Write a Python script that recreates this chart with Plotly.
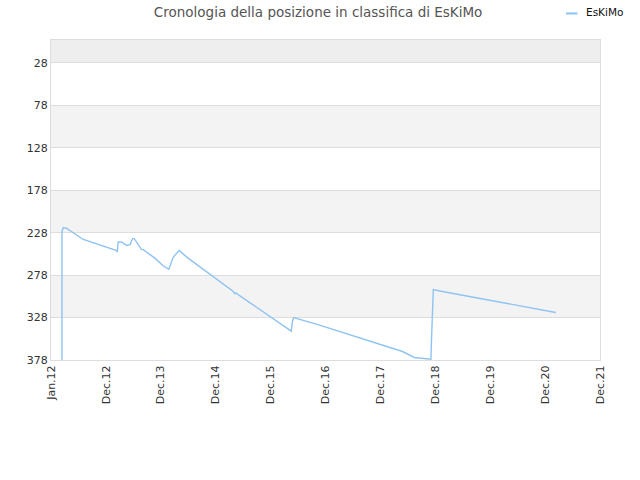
import plotly.graph_objects as go

# rank history
dates = [
    "2012-02-12", "2012-02-12", "2012-02-20", "2012-03-15", "2012-07-03",
    "2012-09-08", "2013-02-10", "2013-02-14", "2013-02-20", "2013-03-15",
    "2013-04-17", "2013-05-10", "2013-05-27", "2013-06-07", "2013-07-26",
    "2013-08-06", "2013-10-22", "2013-12-16", "2014-01-23", "2014-02-21",
    "2014-04-01", "2014-04-28", "2014-05-31", "2015-03-26", "2015-04-07",
    "2015-04-13", "2015-09-19", "2016-04-17", "2016-04-24", "2016-05-03",
    "2016-10-22", "2017-11-24", "2018-04-27", "2018-07-14", "2018-09-08",
    "2018-11-02", "2018-11-05", "2018-11-13", "2018-11-18", "2019-01-08",
    "2021-02-10",
]
ranks = [
    378, 227, 222, 223, 236,
    240, 249, 251, 239, 239,
    243, 242, 235, 235, 248,
    248, 258, 267, 271, 257,
    249, 253, 258, 297, 300,
    299, 318, 344, 333, 328,
    337, 359, 368, 375, 376,
    377, 358, 317, 295, 297,
    322,
]

year_ticks = ["2011-12-01", "2012-12-01", "2013-12-01", "2014-12-01", "2015-12-01",
              "2016-12-01", "2017-12-01", "2018-12-01", "2019-12-01", "2020-12-01",
              "2021-12-01"]
year_labels = ["Jan.12", "Dec.12", "Dec.13", "Dec.14", "Dec.15", "Dec.16",
               "Dec.17", "Dec.18", "Dec.19", "Dec.20", "Dec.21"]
rank_ticks = [28, 78, 128, 178, 228, 278, 328, 378]

line_color = "#8ec3f2"

fig = go.Figure()
fig.add_trace(go.Scatter(x=dates, y=ranks, mode="lines", name="EsKiMo",
                         line=dict(color=line_color, width=1.4)))

# alternating background bands
bands = [(1, 28, "#eeeeee"), (78, 128, "#f3f3f3"), (178, 228, "#f3f3f3"), (278, 328, "#f3f3f3")]
for y0, y1, c in bands:
    fig.add_shape(type="rect", xref="paper", yref="y", x0=0, x1=1, y0=y0, y1=y1,
                  fillcolor=c, line_width=0, layer="below")

# small legend drawn by hand, top right
fig.add_shape(type="line", xref="paper", yref="paper", x0=0.938, x1=0.959,
              y0=1.083, y1=1.083, line=dict(color=line_color, width=2))
fig.add_annotation(text="EsKiMo", xref="paper", yref="paper", x=0.970, y=1.086,
                   xanchor="left", yanchor="middle", showarrow=False,
                   font=dict(size=10.5, color="#111111"))

fig.update_layout(
    width=640, height=480,
    margin=dict(l=51, r=40, t=40, b=120),
    paper_bgcolor="white", plot_bgcolor="white",
    font=dict(family="DejaVu Sans", size=11, color="#333333"),
    title=dict(text="Cronologia della posizione in classifica di EsKiMo",
               x=0.497, xanchor="center", y=0.975, yanchor="middle",
               font=dict(size=13.5, color="#555555")),
    showlegend=False,
)
fig.update_xaxes(type="date", range=["2011-12-01", "2021-12-01"],
                 tickvals=year_ticks, ticktext=year_labels, tickangle=-90,
                 showgrid=False, showline=True, linecolor="#dddddd", mirror=True,
                 ticks="", zeroline=False, automargin=False)
fig.update_yaxes(range=[378, 1], tickvals=rank_ticks, showgrid=True,
                 gridcolor="#dddddd", showline=True, linecolor="#dddddd",
                 mirror=True, ticks="", zeroline=False, automargin=False)

fig.write_html("out.html", config={"displayModeBar": False},
               post_script="document.body.style.margin='0';")
